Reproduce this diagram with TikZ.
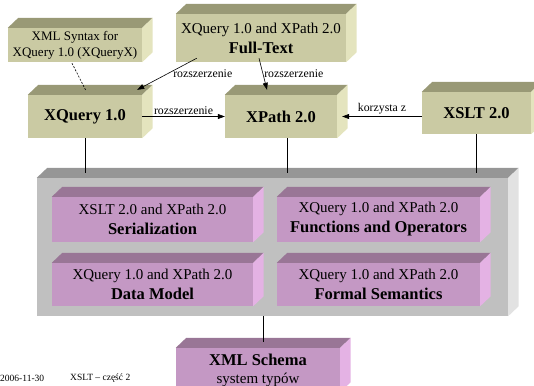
\documentclass[tikz,border=0pt]{standalone}
\usepackage{fontspec}
\setmainfont{Liberation Serif}
\usetikzlibrary{calc,arrows.meta,positioning}

\definecolor{oliwka}{RGB}{202,202,163}
\definecolor{oliwkaGora}{RGB}{153,153,118}
\definecolor{oliwkaBok}{RGB}{228,228,190}
\definecolor{fiolet}{RGB}{196,152,196}
\definecolor{fioletGora}{RGB}{153,118,150}
\definecolor{fioletBok}{RGB}{228,178,228}
\definecolor{szary}{RGB}{192,192,192}
\definecolor{szaryGora}{RGB}{150,150,150}
\definecolor{szaryBok}{RGB}{226,226,226}

\newcommand{\Scianki}[3]% #1=node, #2=top colour, #3=side colour
{\fill[#2] (#1.north west) -- ++(10.5,-10) -- ($(#1.north east)+(10.5,-10)$) -- (#1.north east) -- cycle;
 \fill[#3] (#1.north east) -- ++(10.5,-10) -- ($(#1.south east)+(10.5,-10)$) -- (#1.south east) -- cycle;
}
\newcommand{\zwykly}{\fontsize{15}{20}\selectfont}
\newcommand{\gruby}{\fontsize{16.5}{20}\selectfont\bfseries}

\begin{document}
\begin{tikzpicture}[x=1pt,y=-1pt,
    blok/.style={inner sep=0pt, align=center, font=\zwykly},
    etykieta/.style={font=\fontsize{11.8}{13}\selectfont, inner sep=1pt},
    strzalka/.style={-{Triangle[length=7pt,width=5pt]}, line width=0.6pt},
    linia/.style={line width=0.7pt}]

    \useasboundingbox (0,0) rectangle (534,385);

    % gorny rzad
    \node[blok, fill=oliwka, minimum width=134pt, minimum height=34pt,
          font=\fontsize{13}{16}\selectfont] (XSyn) at (75,45)
        {XML Syntax for\\XQuery 1.0 (XQueryX)};
    \Scianki{XSyn}{oliwkaGora}{oliwkaBok}

    \node[blok, fill=oliwka, minimum width=170pt, minimum height=48pt] (FT) at (261,38)
        {XQuery 1.0 and XPath 2.0\\{\gruby Full-Text}};
    \Scianki{FT}{oliwkaGora}{oliwkaBok}

    % srodkowy rzad
    \node[blok, fill=oliwka, minimum width=114pt, minimum height=43pt, font=\gruby] (XQ) at (85,116.5) {XQuery 1.0};
    \Scianki{XQ}{oliwkaGora}{oliwkaBok}

    \node[blok, fill=oliwka, minimum width=112pt, minimum height=43pt, font=\gruby] (XP) at (281,116.5) {XPath 2.0};
    \Scianki{XP}{oliwkaGora}{oliwkaBok}

    \node[blok, fill=oliwka, minimum width=109pt, minimum height=42pt, font=\gruby] (XS) at (476.5,113) {XSLT 2.0};
    \Scianki{XS}{oliwkaGora}{oliwkaBok}

    % kontener
    \node[blok, fill=szary, minimum width=471pt, minimum height=138pt] (Kont) at (272.5,247) {};
    \Scianki{Kont}{szaryGora}{szaryBok}

    \node[blok, fill=fiolet, minimum width=201pt, minimum height=45pt] (Ser) at (152.5,219.5)
        {XSLT 2.0 and XPath 2.0\\{\gruby Serialization}};
    \Scianki{Ser}{fioletGora}{fioletBok}

    \node[blok, fill=fiolet, minimum width=203pt, minimum height=45pt] (Fun) at (378.5,219.5)
        {XQuery 1.0 and XPath 2.0\\{\gruby Functions and Operators}};
    \Scianki{Fun}{fioletGora}{fioletBok}

    \node[blok, fill=fiolet, minimum width=201pt, minimum height=43pt] (DM) at (152.5,284.5)
        {XQuery 1.0 and XPath 2.0\\{\gruby Data Model}};
    \Scianki{DM}{fioletGora}{fioletBok}

    \node[blok, fill=fiolet, minimum width=203pt, minimum height=43pt] (FS) at (378.5,284.5)
        {XQuery 1.0 and XPath 2.0\\{\gruby Formal Semantics}};
    \Scianki{FS}{fioletGora}{fioletBok}

    % dol
    \node[blok, fill=fiolet, minimum width=164pt, minimum height=44pt,
          font=\fontsize{15}{18}\selectfont] (XSch) at (258,370)
        {{\gruby XML Schema}\\system typów};
    \Scianki{XSch}{fioletGora}{fioletBok}

    \node[font=\fontsize{9.5}{11}\selectfont, anchor=west, inner sep=0pt] (data) at (0,378) {2006-11-30};
    \node[font=\fontsize{9.5}{11}\selectfont, anchor=west, inner sep=0pt] (tytul) at (70,378) {XSLT – część 2};

    % polaczenia
    \coordinate (gora) at (0,173);
    \coordinate (xpdol) at ([xshift=6pt]XP.south);
    \coordinate (schGora) at ($(XSch.north)+(5,-6)$);

    \draw[linia] (XQ.south) -- (XQ.south |- gora);
    \draw[linia] (xpdol) -- (xpdol |- gora);
    \draw[linia] (XS.south) -- (XS.south |- gora);
    \draw[linia] (schGora |- Kont.south) -- (schGora);

    \draw[dash pattern=on 2pt off 1.5pt, line width=0.6pt]
        ($(XSyn.south)+(-3,1)$) -- ($(XQ.north)+(1,-4)$);

    \draw[strzalka] ($(FT.south west)+(21,-4)$)
        -- node[etykieta, midway, anchor=west, xshift=5pt] {rozszerzenie} ($(XQ.north east)+(-5,-5)$);
    \draw[strzalka] ($(FT.south)+(-2,-4)$)
        -- node[etykieta, midway, anchor=west] {rozszerzenie} ($(XP.north)+(-14,-5)$);
    \draw[strzalka] (XQ.east) -- node[etykieta, above=1pt] {rozszerzenie} (XP.west);
    \draw[strzalka] (XS.west |- XP.east) -- node[etykieta, above=1pt] {korzysta z} ($(XP.east)+(5,0)$);

\end{tikzpicture}
\end{document}
